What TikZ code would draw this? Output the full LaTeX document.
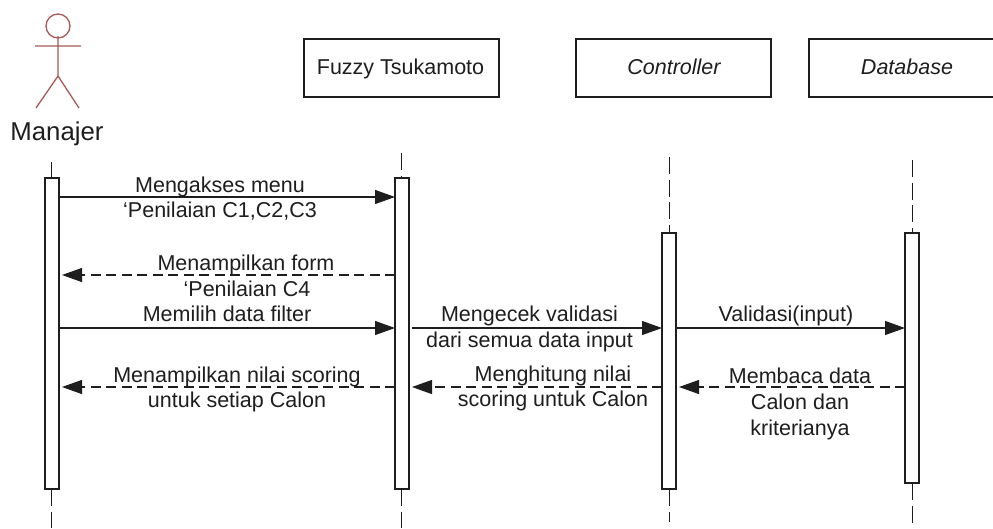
\documentclass[tikz,border=0pt]{standalone}
\usepackage{fontspec}
\setmainfont{Liberation Sans}
\usetikzlibrary{arrows.meta}
\definecolor{ink}{HTML}{1E1E1E}
\definecolor{actorred}{HTML}{A85A5A}
\tikzset{
  x=1pt,y=-1pt,
  every node/.style={inner sep=0pt,outer sep=0pt,text=ink},
  lbl/.style={anchor=base,font=\fontsize{21.5}{24}\selectfont},
  headbox/.style={draw=ink,line width=1.1pt,minimum width=195pt,minimum height=58pt,anchor=north west},
  headtxt/.style={anchor=base,font=\fontsize{21.5}{24}\selectfont},
  barbox/.style={draw=ink,line width=1.1pt,fill=white,minimum width=14pt,anchor=north west},
  life/.style={draw=ink,line width=1pt,dash pattern=on 17pt off 5.5pt},
  msg/.style={draw=ink,line width=1.1pt,-{Triangle[length=20pt,width=14pt]}},
  ret/.style={msg,dash pattern=on 10pt off 5.5pt},
  actorline/.style={draw=actorred,line width=1.3pt}
}
\begin{document}
\begin{tikzpicture}
\useasboundingbox (0,0) rectangle (993,528);
\fill[white] (0,0) rectangle (993,528);
% actor
\draw[actorline] (58,26) circle (12);
\draw[actorline] (58,36) -- (58,76) (35,46) -- (81,46) (36,108) -- (58,76) -- (79,108);
\node[lbl,font=\fontsize{25.8}{28}\selectfont] (manajer) at (57,140) {Manajer};
% heads
\node[headbox] (fuzzy) at (304,39) {};
\node[headtxt] (fuzzyt) at (400.5,74.5) {Fuzzy Tsukamoto};
\node[headbox] (ctrl) at (576,39) {};
\node[headtxt] (ctrlt) at (674,74.5) {\itshape Controller};
\node[headtxt] (dbt) at (907,74.5) {\itshape Database};
\draw[draw=ink,line width=1.1pt] (993,39) -- (809,39) -- (809,97) -- (993,97);
% lifeline ends
\coordinate (l1t) at (51,162); \coordinate (l1b) at (51,528);
\coordinate (l2t) at (401,153); \coordinate (l2b) at (401,528);
\coordinate (l3t) at (669,157); \coordinate (l3b) at (669,522);
\coordinate (l4t) at (912,160); \coordinate (l4b) at (912,526);
% activation bars
\node[barbox,minimum height=311pt] (b1) at (45,178) {};
\node[barbox,minimum height=311pt] (b2) at (395,178) {};
\node[barbox,minimum height=256pt] (b3) at (662,233) {};
\node[barbox,minimum height=250pt] (b4) at (905,233) {};
% lifelines
\draw[life] (l1t) -- (l1t |- b1.north);
\draw[life] (l1t |- b1.south) -- (l1b);
\draw[life] (l2t) -- (l2t |- b2.north);
\draw[life] (l2t |- b2.south) -- (l2b);
\draw[life] (l3t) -- (l3t |- b3.north);
\draw[life] (l3t |- b3.south) -- (l3b);
\draw[life] (l4t) -- (l4t |- b4.north);
\draw[life] (l4t |- b4.south) -- (l4b);
% rows
\coordinate (r1) at (0,197); \coordinate (r2) at (0,275);
\coordinate (r3) at (0,328); \coordinate (r4) at (0,387);
% messages
\draw[msg] (b1.east |- r1) -- (b2.west |- r1);
\draw[ret,shorten >=3pt] (b2.west |- r2) -- (b1.east |- r2);
\draw[msg] (b1.east |- r3) -- (b2.west |- r3);
\draw[msg,shorten <=3pt] (b2.east |- r3) -- (b3.west |- r3);
\draw[msg] (b3.east |- r3) -- (b4.west |- r3);
\draw[ret,shorten >=3pt] (b2.west |- r4) -- (b1.east |- r4);
\draw[ret,shorten >=3pt] (b3.west |- r4) -- (b2.east |- r4);
\draw[ret,shorten >=3pt] (b4.west |- r4) -- (b3.east |- r4);
% labels
\node[lbl] (t1) at (220,192) {Mengakses menu};
\node[lbl] (t2) at (220,217.5) {‘Penilaian C1,C2,C3};
\node[lbl] (t3) at (246,270) {Menampilkan form};
\node[lbl] (t4) at (247,296) {‘Penilaian C4};
\node[lbl] (t5) at (227,321) {Memilih data filter};
\node[lbl] (t6) at (237,382) {Menampilkan nilai scoring};
\node[lbl] (t7) at (237,407) {untuk setiap Calon};
\node[lbl] (t8) at (529.5,321) {Mengecek validasi};
\node[lbl] (t9) at (529.5,347) {dari semua data input};
\node[lbl] (t10) at (553,381) {Menghitung nilai};
\node[lbl] (t11) at (553,406) {scoring untuk Calon};
\node[lbl] (t12) at (786,321) {Validasi(input)};
\node[lbl] (t13) at (800,383) {Membaca data};
\node[lbl] (t14) at (800,409) {Calon dan};
\node[lbl] (t15) at (800,435) {kriterianya};
\end{tikzpicture}
\end{document}
